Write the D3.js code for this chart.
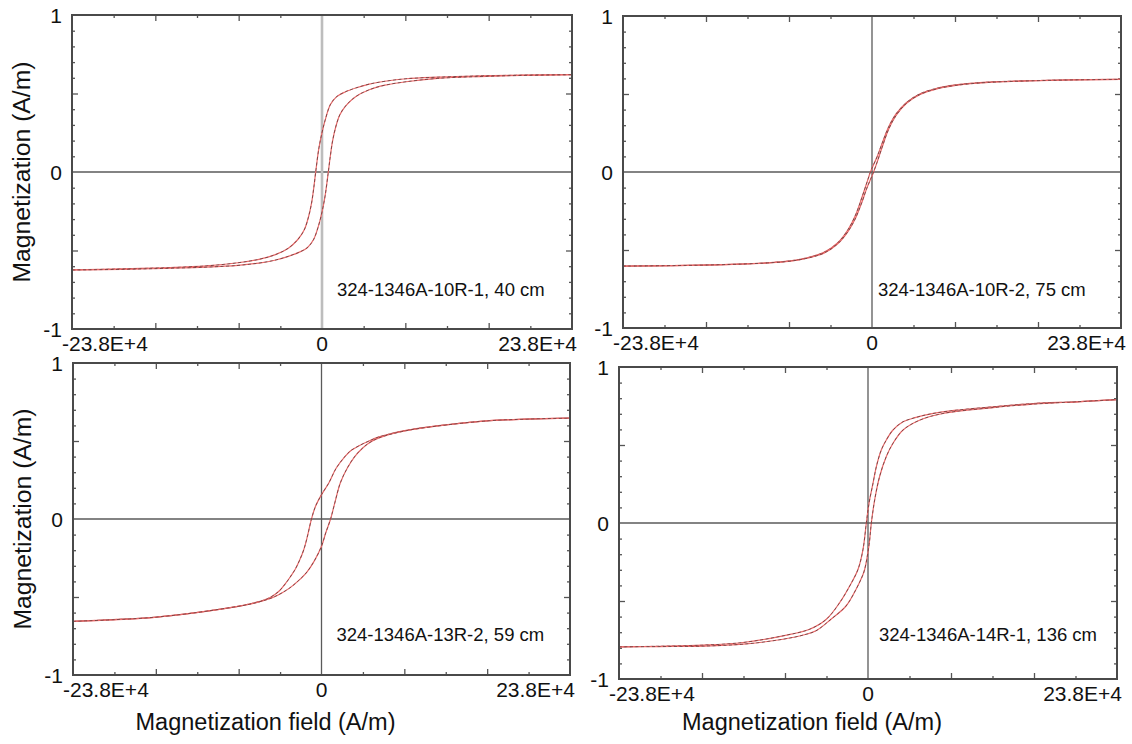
<!DOCTYPE html>
<html>
<head>
<meta charset="utf-8">
<script src="https://cdn.jsdelivr.net/npm/d3@7"></script>
<style>
  html, body { margin: 0; padding: 0; background: #fff; }
  svg { display: block; }
  text { font-family: "Liberation Sans", Arial, Helvetica, sans-serif; fill: #111; }
</style>
</head>
<body>
<svg id="chart" width="1132" height="744"></svg>
<script>
// ---- Data: hysteresis loops, field H in A/m, magnetization normalised ----
const fieldMax = 238000;
const fieldTickValues = [-238000, 0, 238000];
const fieldTickLabels = ["-23.8E+4", "0", "23.8E+4"];
const magTickValues = [-1, 0, 1];
const magTickLabels = ["-1", "0", "1"];
const sampleNames = [
  "324-1346A-10R-1, 40 cm",
  "324-1346A-10R-2, 75 cm",
  "324-1346A-13R-2, 59 cm",
  "324-1346A-14R-1, 136 cm"
];
const yTitle = "Magnetization (A/m)";
const xTitle = "Magnetization field (A/m)";

// 10R-1, 40 cm
const p1DownH = [238000, 190000, 150000, 110000, 80000, 60000, 45000, 32000, 22000, 14000, 8000, 3000, 0, -3000, -6000, -8000, -10000, -13000, -17000, -23000, -32000, -45000, -60000, -80000, -110000, -150000, -190000, -238000];
const p1DownM = [0.620, 0.617, 0.612, 0.604, 0.594, 0.578, 0.560, 0.535, 0.510, 0.480, 0.430, 0.330, 0.250, 0.150, 0.000, -0.110, -0.200, -0.290, -0.370, -0.430, -0.485, -0.528, -0.556, -0.578, -0.598, -0.610, -0.617, -0.624];
const p1UpH = [-238000, -190000, -150000, -110000, -80000, -60000, -45000, -32000, -22000, -14000, -8000, -3000, 0, 3000, 6000, 8000, 10000, 13000, 17000, 23000, 32000, 45000, 60000, 80000, 110000, 150000, 190000, 238000];
const p1UpM = [-0.624, -0.620, -0.614, -0.606, -0.595, -0.580, -0.562, -0.537, -0.512, -0.482, -0.430, -0.335, -0.255, -0.150, 0.000, 0.105, 0.195, 0.285, 0.365, 0.425, 0.480, 0.524, 0.553, 0.575, 0.596, 0.608, 0.615, 0.620];

// 10R-2, 75 cm
const p2DownH = [238000, 190000, 150000, 120000, 100000, 80000, 62000, 46000, 33000, 23000, 16000, 10000, 5000, 0, -1500, -5000, -10000, -16000, -23000, -33000, -46000, -62000, -80000, -100000, -120000, -150000, -190000, -238000];
const p2DownM = [0.594, 0.591, 0.585, 0.579, 0.571, 0.558, 0.537, 0.502, 0.446, 0.372, 0.290, 0.190, 0.100, 0.025, 0.000, -0.070, -0.170, -0.280, -0.370, -0.455, -0.515, -0.550, -0.571, -0.582, -0.589, -0.595, -0.600, -0.603];
const p2UpH = [-238000, -190000, -150000, -120000, -100000, -80000, -62000, -46000, -33000, -23000, -16000, -10000, -5000, 0, 1500, 5000, 10000, 16000, 23000, 33000, 46000, 62000, 80000, 100000, 120000, 150000, 190000, 238000];
const p2UpM = [-0.603, -0.600, -0.595, -0.589, -0.583, -0.573, -0.553, -0.520, -0.462, -0.382, -0.300, -0.200, -0.105, -0.025, 0.000, 0.065, 0.165, 0.275, 0.362, 0.440, 0.497, 0.533, 0.555, 0.569, 0.577, 0.584, 0.590, 0.594];

// 13R-2, 59 cm
const p3DownH = [238000, 196000, 161000, 121000, 81000, 55000, 45500, 36000, 28000, 23000, 14000, 7000, 0, -5800, -9600, -13800, -17000, -21000, -25000, -30000, -34600, -40000, -45000, -52000, -60000, -70000, -80000, -120000, -160000, -200000, -238000];
const p3DownM = [0.647, 0.640, 0.630, 0.605, 0.568, 0.526, 0.500, 0.470, 0.438, 0.405, 0.325, 0.231, 0.156, 0.080, 0.000, -0.120, -0.197, -0.265, -0.320, -0.372, -0.415, -0.458, -0.485, -0.512, -0.530, -0.546, -0.560, -0.600, -0.630, -0.645, -0.656];
const p3UpH = [-238000, -200000, -160000, -120000, -80000, -70000, -60000, -52000, -45000, -38000, -30000, -22000, -14000, -7000, 0, 4000, 8700, 13000, 18000, 25000, 32000, 39000, 45500, 55000, 81000, 121000, 161000, 196000, 238000];
const p3UpM = [-0.656, -0.646, -0.630, -0.600, -0.560, -0.548, -0.532, -0.516, -0.498, -0.474, -0.440, -0.395, -0.340, -0.270, -0.175, -0.090, 0.000, 0.110, 0.231, 0.330, 0.402, 0.452, 0.487, 0.520, 0.566, 0.604, 0.630, 0.640, 0.647];

// 14R-1, 136 cm
const p4DownH = [238000, 199000, 158000, 119500, 84400, 58900, 45000, 33500, 23900, 17500, 12700, 8000, 4800, 1000, -1600, -4800, -9600, -17500, -27100, -39800, -55800, -81200, -119500, -157700, -200000, -238000];
const p4DownM = [0.791, 0.777, 0.766, 0.745, 0.723, 0.698, 0.675, 0.649, 0.596, 0.532, 0.468, 0.362, 0.255, 0.128, 0.000, -0.170, -0.298, -0.404, -0.511, -0.617, -0.681, -0.723, -0.766, -0.783, -0.790, -0.794];
const p4UpH = [-238000, -200000, -157700, -119500, -81200, -60000, -49700, -35400, -21000, -11500, -6000, -3200, 1000, 3200, 6400, 11100, 17500, 23900, 33500, 49700, 71600, 119500, 157700, 199100, 238000];
const p4UpM = [-0.794, -0.792, -0.789, -0.777, -0.745, -0.715, -0.691, -0.617, -0.532, -0.426, -0.350, -0.298, -0.140, 0.000, 0.149, 0.298, 0.426, 0.511, 0.596, 0.660, 0.702, 0.740, 0.762, 0.777, 0.791];

const loops = [
  [[p1DownH, p1DownM], [p1UpH, p1UpM]],
  [[p2DownH, p2DownM], [p2UpH, p2UpM]],
  [[p3DownH, p3DownM], [p3UpH, p3UpM]],
  [[p4DownH, p4DownM], [p4UpH, p4UpM]]
];

// ---- Layout of the four frames ----
const layout = [
  { left: 72,  right: 572,  top: 15,  bottom: 329, axisTone: "light", labelDx: 15, labelUp: 33, yTitle: true,  xTitle: false },
  { left: 623, right: 1121, top: 16,  bottom: 328, axisTone: "dark",  labelDx: 6,  labelUp: 32, yTitle: false, xTitle: false },
  { left: 73,  right: 570,  top: 363, bottom: 675, axisTone: "dark",  labelDx: 15, labelUp: 34, yTitle: true,  xTitle: true },
  { left: 619, right: 1117, top: 367, bottom: 679, axisTone: "dark",  labelDx: 11, labelUp: 38, yTitle: false, xTitle: true }
];

const svg = d3.select("#chart");

const minorField = d3.range(-5, 6).filter(k => k !== 0 && k % 2 !== 0).map(k => k * fieldMax / 6);
const majorField = d3.range(-5, 6).filter(k => k !== 0 && k % 2 === 0).map(k => k * fieldMax / 6);
const minorMag = d3.range(-9, 10).filter(k => k !== 0 && Math.abs(k) !== 5).map(k => k / 10);
const majorMag = [-0.5, 0.5];

layout.forEach((L, i) => {
  const x = d3.scaleLinear().domain([-fieldMax, fieldMax]).range([L.left, L.right]);
  const y = d3.scaleLinear().domain([-1, 1]).range([L.bottom, L.top]);
  const g = svg.append("g");
  const w = L.right - L.left, h = L.bottom - L.top;

  // inward tick marks on all four sides
  const tickSets = [
    [d3.axisBottom(x).tickValues(minorField).tickSize(-3), `translate(0,${L.bottom})`],
    [d3.axisBottom(x).tickValues(majorField).tickSize(-6), `translate(0,${L.bottom})`],
    [d3.axisTop(x).tickValues(minorField).tickSize(-3), `translate(0,${L.top})`],
    [d3.axisTop(x).tickValues(majorField).tickSize(-6), `translate(0,${L.top})`],
    [d3.axisLeft(y).tickValues(minorMag).tickSize(-3), `translate(${L.left},0)`],
    [d3.axisLeft(y).tickValues(majorMag).tickSize(-6), `translate(${L.left},0)`],
    [d3.axisRight(y).tickValues(minorMag).tickSize(-3), `translate(${L.right},0)`],
    [d3.axisRight(y).tickValues(majorMag).tickSize(-6), `translate(${L.right},0)`]
  ];
  tickSets.forEach(([ax, tr]) => {
    const a = g.append("g").attr("transform", tr).call(ax.tickFormat(""));
    a.select(".domain").remove();
    a.selectAll(".tick line").attr("stroke", "#555").attr("stroke-width", 1.3);
  });

  // zero lines
  g.append("line")
    .attr("x1", L.left).attr("x2", L.right)
    .attr("y1", y(0)).attr("y2", y(0))
    .attr("stroke", "#5a5a5a").attr("stroke-width", 1.5);
  g.append("line")
    .attr("x1", x(0)).attr("x2", x(0))
    .attr("y1", L.top).attr("y2", L.bottom)
    .attr("stroke", L.axisTone === "light" ? "#bdbdbd" : "#5a5a5a")
    .attr("stroke-width", L.axisTone === "light" ? 2.6 : 1.3);

  // loop branches: thin red trace with dark measurement dashes on top
  const line = d3.line()
    .x(d => x(d[0])).y(d => y(d[1]))
    .curve(d3.curveCatmullRom.alpha(0.5));
  loops[i].forEach(([H, M]) => {
    const pts = H.map((v, j) => [v, M[j]]);
    g.append("path").datum(pts).attr("d", line)
      .attr("fill", "none").attr("stroke", "#ea6a6a").attr("stroke-width", 1.2);
    g.append("path").datum(pts).attr("d", line)
      .attr("fill", "none").attr("stroke", "#2a2222").attr("stroke-width", 0.9)
      .attr("stroke-dasharray", "3 2.5").attr("opacity", 0.6);
  });

  // frame
  g.append("rect")
    .attr("x", L.left).attr("y", L.top).attr("width", w).attr("height", h)
    .attr("fill", "none").attr("stroke", "#4a4a4a").attr("stroke-width", 2);

  // tick labels
  magTickValues.forEach((v, j) => {
    g.append("text")
      .attr("x", L.left - 10).attr("y", y(v)).attr("dy", "0.36em")
      .attr("text-anchor", "end").attr("font-size", 21)
      .text(magTickLabels[j]);
  });
  fieldTickValues.forEach((v, j) => {
    const anchor = j === 0 ? "start" : (j === fieldTickValues.length - 1 ? "end" : "middle");
    const dx = j === 0 ? -10 : (j === fieldTickValues.length - 1 ? 5 : 0);
    g.append("text")
      .attr("x", x(v) + dx).attr("y", L.bottom + 22)
      .attr("text-anchor", anchor).attr("font-size", 21)
      .text(fieldTickLabels[j]);
  });

  // sample label
  g.append("text")
    .attr("x", x(0) + L.labelDx).attr("y", L.bottom - L.labelUp)
    .attr("font-size", 18.5)
    .text(sampleNames[i]);

  // axis titles
  if (L.yTitle) {
    g.append("text")
      .attr("transform", `translate(${L.left - 50},${y(0)}) rotate(-90)`)
      .attr("dy", "0.35em")
      .attr("text-anchor", "middle").attr("font-size", 23)
      .attr("textLength", 221).attr("lengthAdjust", "spacingAndGlyphs")
      .text(yTitle);
  }
  if (L.xTitle) {
    g.append("text")
      .attr("x", x(0) - 56).attr("y", 730)
      .attr("text-anchor", "middle").attr("font-size", 23)
      .attr("textLength", 260).attr("lengthAdjust", "spacingAndGlyphs")
      .text(xTitle);
  }
});
</script>
</body>
</html>
